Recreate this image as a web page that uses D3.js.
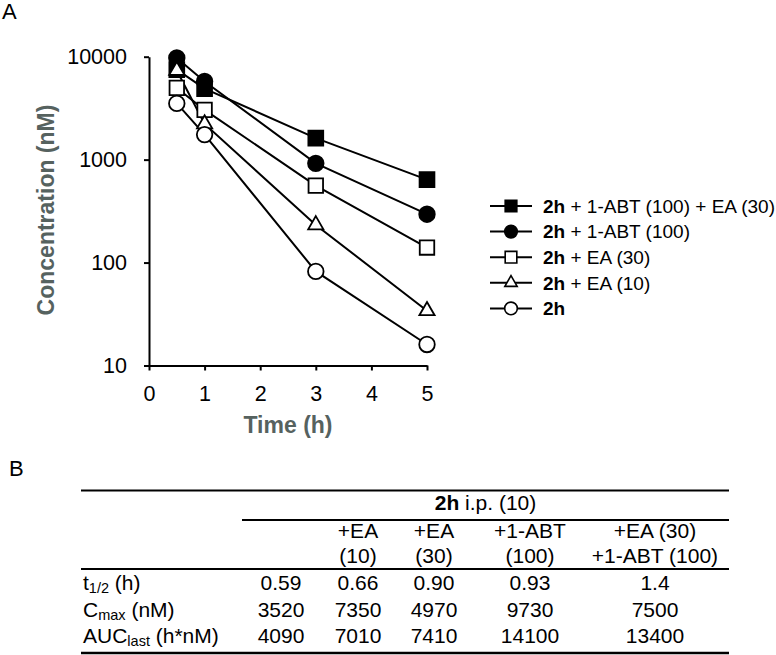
<!DOCTYPE html>
<html><head><meta charset="utf-8">
<script src="https://cdn.jsdelivr.net/npm/d3@7"></script>
<style>
body{margin:0;background:#fff;}
svg{display:block;font-family:"Liberation Sans",Arial,sans-serif;}
</style></head>
<body>
<svg id="chart" width="776" height="655"></svg>
<script>
// ---------- data ----------
const times = [0.5, 1, 3, 5];
const seriesKeys = ["combo", "abt", "ea30", "ea10", "ctrl"];
const comboValues = [7500, 4900, 1620, 640];   // 2h + 1-ABT (100) + EA (30)
const abtValues   = [9730, 5750, 920, 295];    // 2h + 1-ABT (100)
const ea30Values  = [4970, 3040, 560, 140];    // 2h + EA (30)
const ea10Values  = [7350, 2220, 232, 34];     // 2h + EA (10)
const ctrlValues  = [3520, 1750, 82, 16];      // 2h
const legendBold = ["2h", "2h", "2h", "2h", "2h"];
const legendRest = [" + 1-ABT (100) + EA (30)", " + 1-ABT (100)", " + EA (30)", " + EA (10)", ""];
const yTicks = [10, 100, 1000, 10000];
const xTicks = [0, 1, 2, 3, 4, 5];

// table
const tableTitleBold = "2h";
const tableTitleRest = " i.p. (10)";
const colHead1 = ["", "+EA", "+EA", "+1-ABT", "+EA (30)"];
const colHead2 = ["", "(10)", "(30)", "(100)", "+1-ABT (100)"];
const rowMain = ["t", "C", "AUC"];
const rowSub = ["1/2", "max", "last"];
const rowUnit = [" (h)", " (nM)", " (h*nM)"];
const t12Row  = ["0.59", "0.66", "0.90", "0.93", "1.4"];
const cmaxRow = ["3520", "7350", "4970", "9730", "7500"];
const aucRow  = ["4090", "7010", "7410", "14100", "13400"];

// ---------- drawing ----------
const svg = d3.select("#chart");
const valuesByKey = {combo: comboValues, abt: abtValues, ea30: ea30Values, ea10: ea10Values, ctrl: ctrlValues};
const shapeByKey = {combo: d3.symbolSquare, abt: d3.symbolCircle, ea30: d3.symbolSquare, ea10: d3.symbolTriangle, ctrl: d3.symbolCircle};
const fillByKey = {combo: "#000", abt: "#000", ea30: "#fff", ea10: "#fff", ctrl: "#fff"};
const sizeByKey = {combo: 220, abt: 190, ea30: 210, ea10: 100, ctrl: 190};
const legSizeByKey = {combo: 135, abt: 125, ea30: 135, ea10: 66, ctrl: 125};

const x = d3.scaleLinear().domain([0, 5]).range([149, 427]);
const y = d3.scaleLog().domain([10, 10000]).range([365.5, 56.7]);

// panel letters
svg.append("text").attr("x", 2).attr("y", 19).attr("font-size", 22).text("A");
svg.append("text").attr("x", 9).attr("y", 476).attr("font-size", 22).text("B");

// axes
const yAxis = svg.append("g").attr("transform", "translate(149,0)")
  .call(d3.axisLeft(y).tickValues(yTicks).tickFormat(d3.format("d")).tickSize(5).tickSizeOuter(0).tickPadding(17));
const xAxis = svg.append("g").attr("transform", "translate(0,365.5)")
  .call(d3.axisBottom(x).tickValues(xTicks).tickFormat(d3.format("d")).tickSize(5).tickSizeOuter(0).tickPadding(15));
[yAxis, xAxis].forEach(g => {
  g.selectAll("path,line").attr("stroke", "#000").attr("stroke-width", 2);
  g.selectAll("text").attr("font-size", 21.5).attr("fill", "#000").attr("font-family", '"Liberation Sans",Arial,sans-serif');
});

svg.append("text").attr("transform", "translate(54,210) rotate(-90)")
  .attr("text-anchor", "middle").attr("font-size", 23).attr("font-weight", "bold").attr("fill", "#56625f")
  .text("Concentration (nM)");
svg.append("text").attr("x", 288).attr("y", 433)
  .attr("text-anchor", "middle").attr("font-size", 23).attr("font-weight", "bold").attr("fill", "#56625f")
  .text("Time (h)");

// lines
const line = d3.line().x((d, i) => x(times[i])).y(d => y(d));
seriesKeys.forEach(k => {
  svg.append("path").datum(valuesByKey[k]).attr("d", line)
    .attr("fill", "none").attr("stroke", "#000").attr("stroke-width", 2);
});
// markers
seriesKeys.forEach(k => {
  svg.append("g").selectAll("path").data(valuesByKey[k]).join("path")
    .attr("transform", (d, i) => `translate(${x(times[i])},${y(d)})`)
    .attr("d", d3.symbol().type(shapeByKey[k]).size(sizeByKey[k]))
    .attr("fill", fillByKey[k]).attr("stroke", "#000").attr("stroke-width", 1.8);
});

// legend
const legY0 = 206, legDy = 25.6;
seriesKeys.forEach((k, i) => {
  const g = svg.append("g").attr("transform", `translate(0,${legY0 + i * legDy})`);
  g.append("line").attr("x1", 490).attr("x2", 532).attr("y1", 0).attr("y2", 0)
    .attr("stroke", "#000").attr("stroke-width", 2);
  g.append("path").attr("transform", "translate(511,0)")
    .attr("d", d3.symbol().type(shapeByKey[k]).size(legSizeByKey[k])())
    .attr("fill", fillByKey[k]).attr("stroke", "#000").attr("stroke-width", 1.6);
  const t = g.append("text").attr("x", 543).attr("y", 6.8).attr("font-size", 19);
  t.append("tspan").attr("font-weight", "bold").text(legendBold[i]);
  t.append("tspan").text(legendRest[i]);
});

// table
const colX = [281, 358, 434, 530, 655];
const hline = (x1, x2, yy, w) => svg.append("line").attr("x1", x1).attr("x2", x2).attr("y1", yy).attr("y2", yy)
  .attr("stroke", "#000").attr("stroke-width", w);
hline(81, 729, 490.5, 2.2);
hline(242, 729, 520, 2.2);
hline(81, 729, 569, 2.2);
hline(81, 729, 653, 2.6);

const tt = svg.append("text").attr("x", 485.5).attr("y", 510).attr("text-anchor", "middle").attr("font-size", 21);
tt.append("tspan").attr("font-weight", "bold").text(tableTitleBold);
tt.append("tspan").text(tableTitleRest);

colHead1.forEach((s, i) => {
  svg.append("text").attr("x", colX[i]).attr("y", 538).attr("text-anchor", "middle").attr("font-size", 21).text(s);
  svg.append("text").attr("x", colX[i]).attr("y", 563).attr("text-anchor", "middle").attr("font-size", 21).text(colHead2[i]);
});

const rowY = [590, 617, 643];
const bodyRows = [t12Row, cmaxRow, aucRow];
rowMain.forEach((m, r) => {
  const t = svg.append("text").attr("x", 83).attr("y", rowY[r]).attr("font-size", 21);
  t.append("tspan").text(m);
  t.append("tspan").attr("font-size", 14.5).attr("dy", 3).text(rowSub[r]);
  t.append("tspan").attr("dy", -3).text(rowUnit[r]);
  bodyRows[r].forEach((v, c) => {
    svg.append("text").attr("x", colX[c]).attr("y", rowY[r]).attr("text-anchor", "middle").attr("font-size", 21).text(v);
  });
});
</script>
</body></html>
